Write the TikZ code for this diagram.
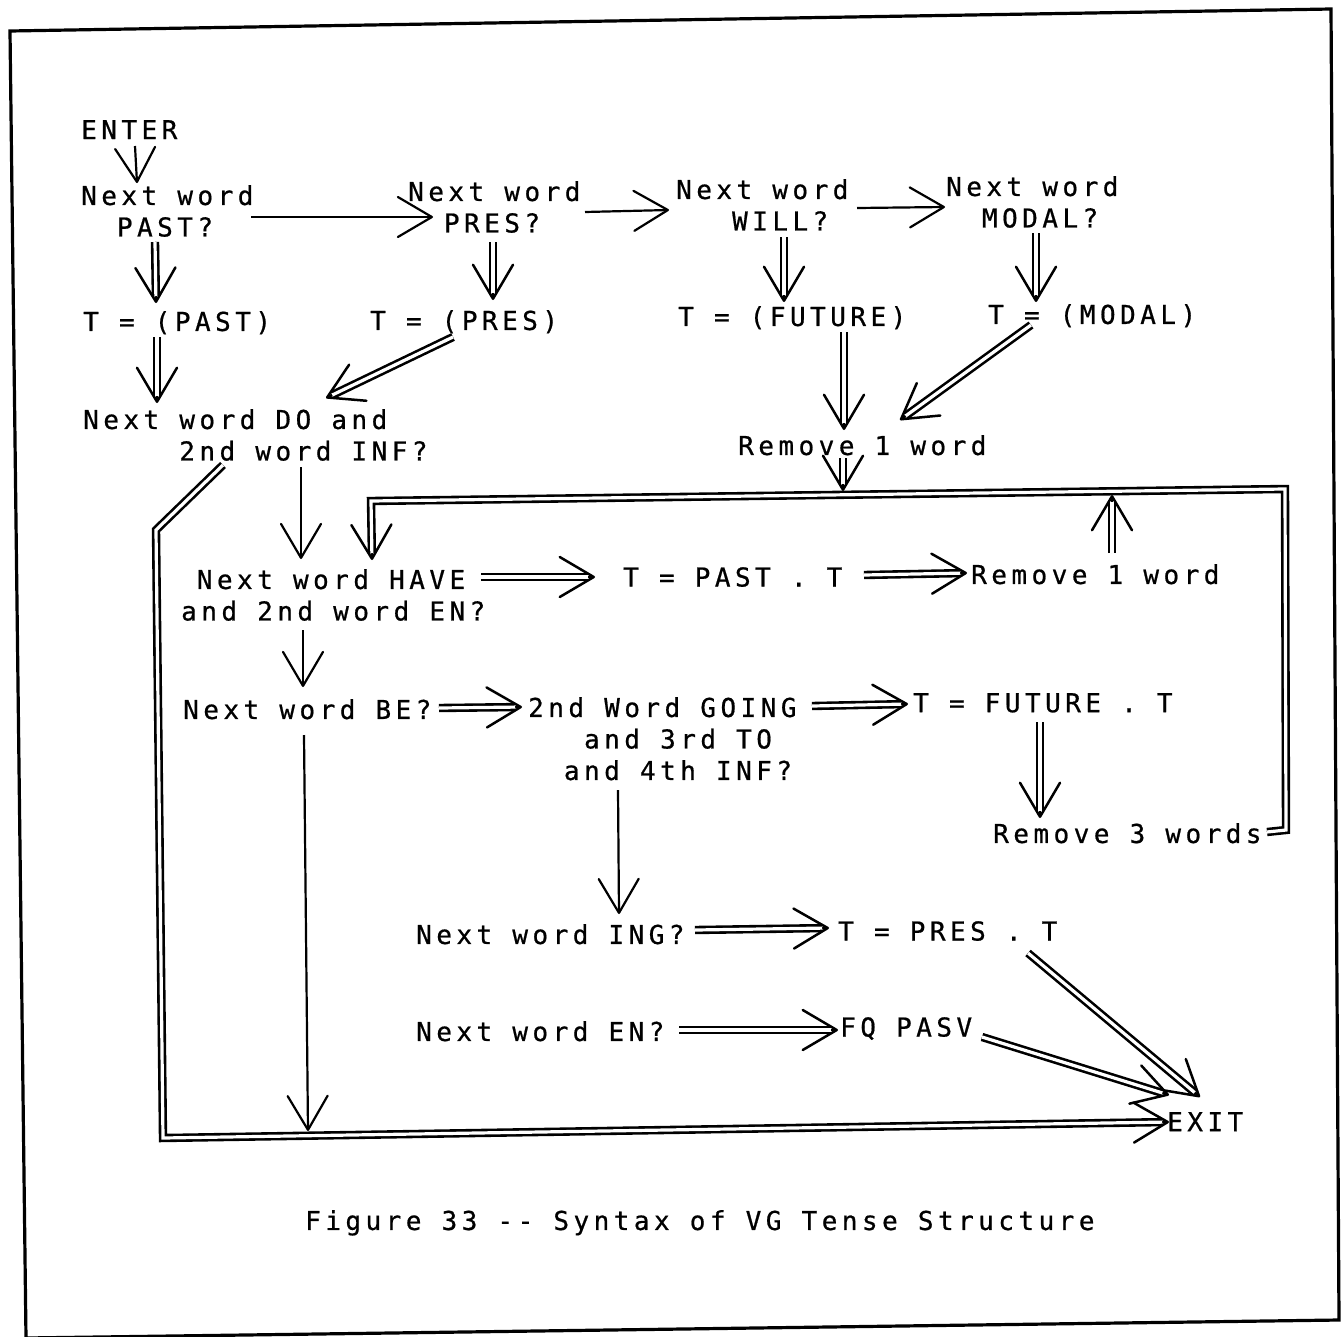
\documentclass[tikz,border=0pt]{standalone}
\usepackage{fontspec}
\newfontfamily\mono[LetterSpace=17.2,FakeBold=0.7]{DejaVu Sans Mono}
\usetikzlibrary{arrows.meta}
\tikzset{
  lbl/.style={inner sep=0pt, anchor=north west, align=left, font={\mono\fontsize{26}{31.5}\selectfont}},
  sarr/.style={line width=2.2pt, -{Straight Barb[length=34pt,width=40pt,round]}},
  dhead/.style={line width=2.5pt, -{Straight Barb[length=34pt,width=40pt,round]}},
  dshaft/.style={double, double distance=3.2pt, line width=2.6pt, shorten >=7pt, line join=miter},
  frame/.style={line width=3.2pt, line join=miter},
}
\newcommand\dbl[1]{\draw[dhead] #1; \draw[dshaft] #1;}
\begin{document}
\begin{tikzpicture}[x=1pt,y=-1pt]
\useasboundingbox (0,0) rectangle (1344,1336);
\draw[frame] (10,31) -- (1331,9) -- (1339,1320) -- (26,1338) -- cycle;

% nodes
\node[lbl] (enter) at (81,120) {ENTER};
\node[lbl] (past) at (81,185) {Next word\\\hphantom{NN}PAST?};
\node[lbl] (pres) at (408,181) {Next word\\\hphantom{NN}PRES?};
\node[lbl] (will) at (676,179) {Next word\\\hphantom{NNN}WILL?};
\node[lbl] (modal) at (946,176) {Next word\\\hphantom{NN}MODAL?};
\node[lbl] (tpast) at (83,311) {T = (PAST)};
\node[lbl] (tpres) at (370,310) {T = (PRES)};
\node[lbl] (tfut) at (678,306) {T = (FUTURE)};
\node[lbl] (tmod) at (988,304) {T = (MODAL)};
\node[lbl] (dodo) at (83,409) {Next word DO and\\\hphantom{NNNNN}2nd word INF?};
\node[lbl] (rem1a) at (738,435) {Remove 1 word};
\node[lbl] (have) at (181,569) {\hphantom{N}Next word HAVE\\and 2nd word EN?};
\node[lbl] (tpastT) at (623,567) {T = PAST . T};
\node[lbl] (rem1b) at (971,564) {Remove 1 word};
\node[lbl] (be) at (183,699) {Next word BE?};
\node[lbl] (going) at (528,697) {2nd Word GOING\\\hphantom{NNN}and 3rd TO\\\hphantom{NN}and 4th INF?};
\node[lbl] (tfutT) at (913,693) {T = FUTURE . T};
\node[lbl] (rem3) at (993,823) {Remove 3 words};
\node[lbl] (ing) at (416,924) {Next word ING?};
\node[lbl] (tpresT) at (838,921) {T = PRES . T};
\node[lbl] (en) at (416,1021) {Next word EN?};
\node[lbl] (fq) at (840,1017) {FQ PASV};
\node[lbl] (exit) at (1167,1112) {EXIT};
\node[lbl] (cap) at (305,1210) {Figure 33 -- Syntax of VG Tense Structure};

% junction coordinates
\coordinate (lc1) at (156,530);
\coordinate (lc2) at (163,1138);
\coordinate (lp1) at (1286,830);
\coordinate (lp2) at (1285,489);
\coordinate (lp3) at (371,501);
\coordinate (j1) at (843,491);
\coordinate (j2) at (1112,495);
\coordinate (j3) at (308,1131);

% loops
\dbl{([shift={(140,56)}]dodo.north west) -- (lc1) -- (lc2) -- ([shift={(2,10)}]exit.north west)}
\dbl{([shift={(274,9)}]rem3.north west) -- (lp1) -- (lp2) -- (lp3) -- ([shift={(191,-9)}]have.north west)}

% single arrows
\draw[sarr] ([shift={(54,26)}]enter.north west) -- ([shift={(56,-2)}]past.north west);
\draw[sarr] ([shift={(170,32)}]past.north west) -- ([shift={(25,36)}]pres.north west);
\draw[sarr] ([shift={(177,31)}]pres.north west) -- ([shift={(-7,31)}]will.north west);
\draw[sarr] ([shift={(181,29)}]will.north west) -- ([shift={(-1,31)}]modal.north west);
\draw[sarr] ([shift={(218,58)}]dodo.north west) -- ([shift={(120,-10)}]have.north west);
\draw[sarr] ([shift={(122,61)}]have.north west) -- ([shift={(120,-12)}]be.north west);
\draw[sarr] ([shift={(90,93)}]going.north west) -- ([shift={(203,-10)}]ing.north west);
\draw[sarr] ([shift={(121,36)}]be.north west) -- (j3);

% double arrows
\dbl{([shift={(74,57)}]past.north west) -- ([shift={(73,-8)}]tpast.north west)}
\dbl{([shift={(74,26)}]tpast.north west) -- ([shift={(74,-6)}]dodo.north west)}
\dbl{([shift={(85,61)}]pres.north west) -- ([shift={(123,-10)}]tpres.north west)}
\dbl{([shift={(83,27)}]tpres.north west) -- ([shift={(243,-11)}]dodo.north west)}
\dbl{([shift={(108,58)}]will.north west) -- ([shift={(106,-4)}]tfut.north west)}
\dbl{([shift={(90,57)}]modal.north west) -- ([shift={(48,-2)}]tmod.north west)}
\dbl{([shift={(166,26)}]tfut.north west) -- ([shift={(106,-5)}]rem1a.north west)}
\dbl{([shift={(43,21)}]tmod.north west) -- ([shift={(162,-15)}]rem1a.north west)}
\dbl{([shift={(105,23)}]rem1a.north west) -- (j1)}
\dbl{([shift={(141,-11)}]rem1b.north west) -- (j2)}
\dbl{([shift={(300,8)}]have.north west) -- ([shift={(-28,10)}]tpastT.north west)}
\dbl{([shift={(241,8)}]tpastT.north west) -- ([shift={(-4,9)}]rem1b.north west)}
\dbl{([shift={(256,9)}]be.north west) -- ([shift={(-6,10)}]going.north west)}
\dbl{([shift={(284,9)}]going.north west) -- ([shift={(-5,11)}]tfutT.north west)}
\dbl{([shift={(127,29)}]tfutT.north west) -- ([shift={(47,-5)}]rem3.north west)}
\dbl{([shift={(279,6)}]ing.north west) -- ([shift={(-9,7)}]tpresT.north west)}
\dbl{([shift={(263,9)}]en.north west) -- ([shift={(-2,13)}]fq.north west)}
\dbl{([shift={(190,32)}]tpresT.north west) -- ([shift={(33,-15)}]exit.north west)}
\dbl{([shift={(142,20)}]fq.north west) -- ([shift={(2,-17)}]exit.north west)}
\end{tikzpicture}
\end{document}
